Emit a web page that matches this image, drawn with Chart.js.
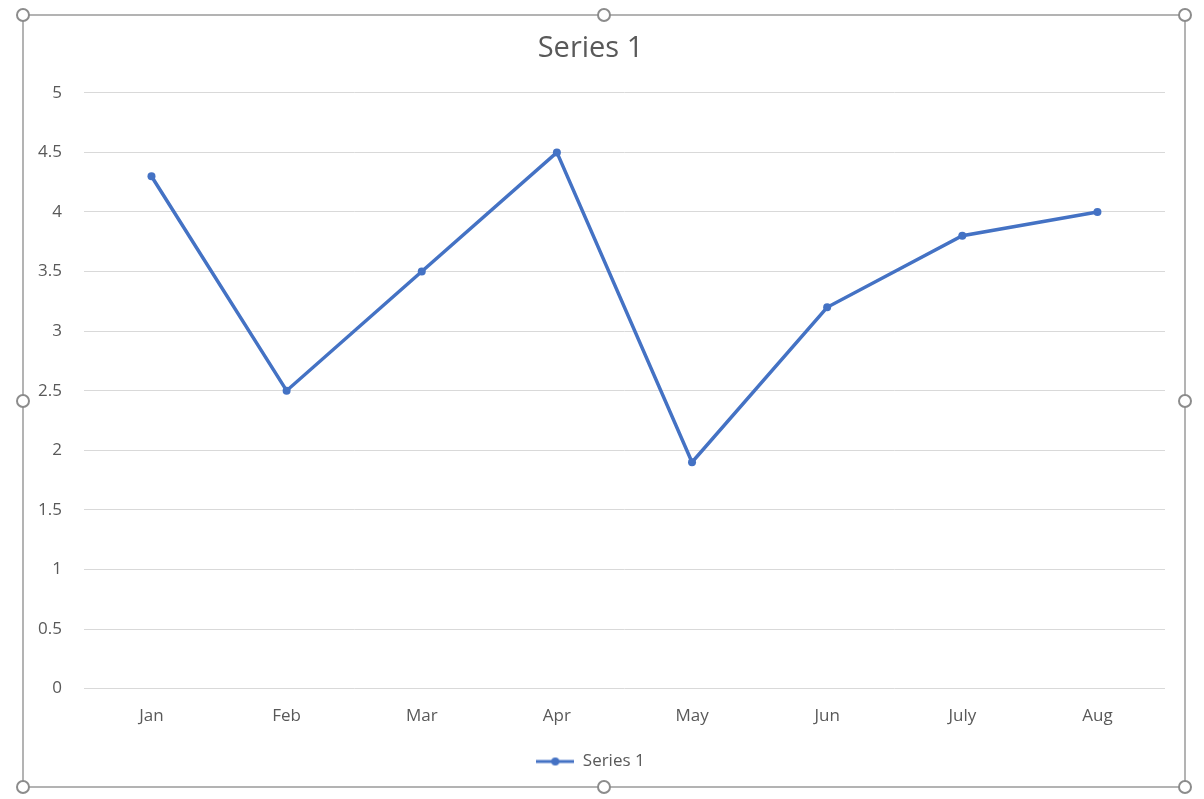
<!DOCTYPE html>
<html>
<head>
<meta charset="utf-8">
<script src="https://cdn.jsdelivr.net/npm/chart.js@4/dist/chart.umd.min.js"></script>
<style>
  html, body { margin: 0; padding: 0; background: #fff; }
  #wrap { width: 1204px; height: 799px; }
</style>
</head>
<body>
<div id="wrap"><canvas id="lineChart" width="1204" height="799"></canvas></div>
<script>
// chart data
const months = ['Jan', 'Feb', 'Mar', 'Apr', 'May', 'Jun', 'July', 'Aug'];
const series1 = [4.3, 2.5, 3.5, 4.5, 1.9, 3.2, 3.8, 4.0];
const yTicks = [0, 0.5, 1, 1.5, 2, 2.5, 3, 3.5, 4, 4.5, 5];

const blue = '#4472C4';
const textGrey = '#595959';
const fontFamily = "'Open Sans', 'Noto Sans', sans-serif";

// legend marker: short line with a dot, like Excel
const marker = document.createElement('canvas');
marker.width = 38;
marker.height = 10;
const mctx = marker.getContext('2d');
mctx.strokeStyle = blue;
mctx.lineWidth = 3;
mctx.beginPath();
mctx.moveTo(0, 5);
mctx.lineTo(38, 5);
mctx.stroke();
mctx.fillStyle = blue;
mctx.beginPath();
mctx.arc(19, 5, 4, 0, Math.PI * 2);
mctx.fill();

// selection frame with handles around the chart
const frame = {
  id: 'frame',
  afterDraw(chart) {
    const c = chart.ctx;
    const l = 23, t = 15, r = 1185, b = 787;
    c.save();
    c.strokeStyle = '#9a9a9a';
    c.lineWidth = 1.5;
    c.strokeRect(l, t, r - l, b - t);
    const mx = (l + r) / 2, my = (t + b) / 2;
    const pts = [[l, t], [mx, t], [r, t], [l, my], [r, my], [l, b], [mx, b], [r, b]];
    pts.forEach(([x, y]) => {
      c.beginPath();
      c.arc(x, y, 6, 0, Math.PI * 2);
      c.fillStyle = '#fff';
      c.fill();
      c.lineWidth = 2;
      c.strokeStyle = '#8c8c8c';
      c.stroke();
    });
    c.restore();
  }
};

const ctx = document.getElementById('lineChart').getContext('2d');
new Chart(ctx, {
  type: 'line',
  data: {
    labels: months,
    datasets: [{
      label: 'Series 1',
      data: series1,
      borderColor: blue,
      backgroundColor: blue,
      borderWidth: 3.5,
      pointRadius: 4,
      pointHoverRadius: 4,
      pointBackgroundColor: blue,
      pointBorderWidth: 0,
      tension: 0,
      fill: false
    }]
  },
  options: {
    responsive: false,
    animation: false,
    layout: { padding: { left: 16, right: 39, top: 21, bottom: 19 } },
    scales: {
      x: {
        offset: true,
        grid: { display: false, drawTicks: false },
        border: { display: false },
        ticks: { color: textGrey, font: { family: fontFamily, size: 17 }, padding: 17 }
      },
      y: {
        min: 0,
        max: 5,
        afterBuildTicks: axis => { axis.ticks = yTicks.map(v => ({ value: v })); },
        grid: { color: '#d9d9d9', lineWidth: 1, drawTicks: false },
        border: { display: false },
        ticks: {
          color: textGrey,
          font: { family: fontFamily, size: 17 },
          padding: 22,
          callback: v => String(v)
        }
      }
    },
    plugins: {
      title: {
        display: true,
        text: 'Series 1',
        color: textGrey,
        font: { family: fontFamily, size: 29, weight: 'normal' },
        padding: { top: 10, bottom: 27 }
      },
      legend: {
        position: 'bottom',
        labels: {
          usePointStyle: true,
          pointStyle: marker,
          pointStyleWidth: 38,
          color: textGrey,
          font: { family: fontFamily, size: 17 },
          padding: 10
        }
      },
      tooltip: { enabled: false }
    }
  },
  plugins: [frame]
});
</script>
</body>
</html>
